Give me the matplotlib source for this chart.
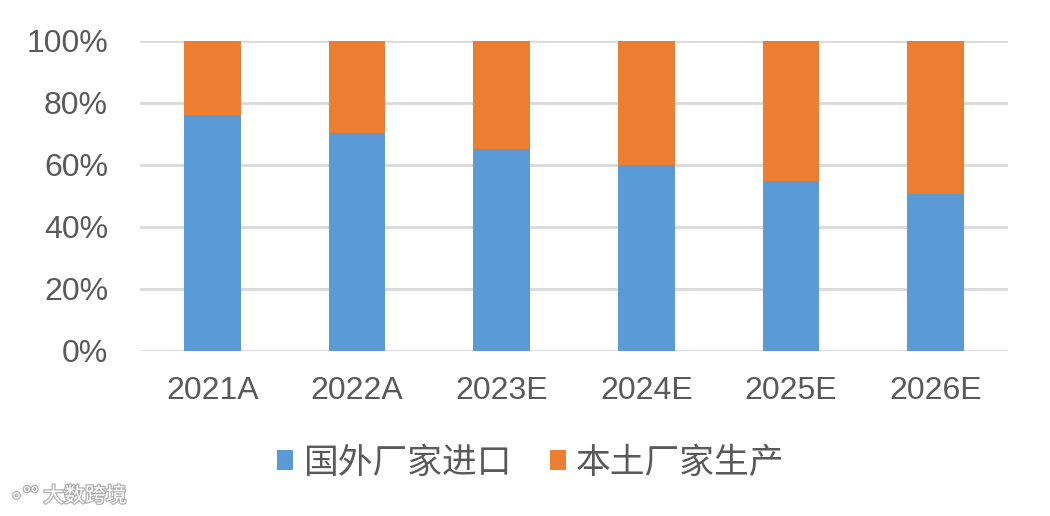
import matplotlib
matplotlib.use("Agg")
import matplotlib.pyplot as plt
import matplotlib.patheffects as pe
from matplotlib.patches import Patch

plt.rcParams['font.family'] = ['Liberation Sans', 'Noto Sans CJK SC', 'DejaVu Sans']

categories = ["2021A", "2022A", "2023E", "2024E", "2025E", "2026E"]
imported = [76.1, 70.4, 65.3, 60.0, 54.7, 50.6]
local = [100 - v for v in imported]
series_names = ["国外厂家进口", "本土厂家生产"]
colors = ["#5B9BD5", "#ED7D31"]
yticks = [0, 20, 40, 60, 80, 100]
ytick_labels = ["0%", "20%", "40%", "60%", "80%", "100%"]

fig = plt.figure(figsize=(10.5, 5.16), dpi=100)
ax = fig.add_axes([140/1050, 1 - 351/516, (1008-140)/1050, (351-41)/516])

x = list(range(len(categories)))
ax.bar(x, imported, width=0.39, color=colors[0], zorder=3)
ax.bar(x, local, bottom=imported, width=0.39, color=colors[1], zorder=3)

ax.set_xlim(-0.5, len(categories) - 0.5)
ax.set_ylim(0, 100)
ax.set_yticks(yticks)
ax.set_yticklabels(ytick_labels)
ax.set_xticks(x)
ax.set_xticklabels(categories)
ax.tick_params(axis='both', length=0, labelsize=23, colors="#595959")
ax.tick_params(axis='y', pad=23)
ax.tick_params(axis='x', pad=18)
ax.grid(axis='y', color="#D9D9D9", linewidth=2.0, zorder=0)
for s in ax.spines.values():
    s.set_visible(False)

handles = [Patch(facecolor=c, edgecolor='none') for c in colors]
leg = fig.legend(handles, series_names, loc='center', bbox_to_anchor=(531/1050, 1 - 463/516),
                 ncol=2, frameon=False, handlelength=0.45, handleheight=0.5,
                 handletextpad=0.3, columnspacing=1.1, labelcolor="#595959",
                 prop={'family': ['Noto Sans CJK SC', 'DejaVu Sans'], 'size': 25})

fig.text(10/1050, 1 - 496/516, "\u2218\u00b0\u00b0 大数跨境", fontsize=15, color="white",
         family=['Noto Sans CJK SC', 'DejaVu Sans'], va='center', ha='left',
         path_effects=[pe.withStroke(linewidth=1.8, foreground="#B0B0B0")])

fig.savefig("out.png", dpi=100)
